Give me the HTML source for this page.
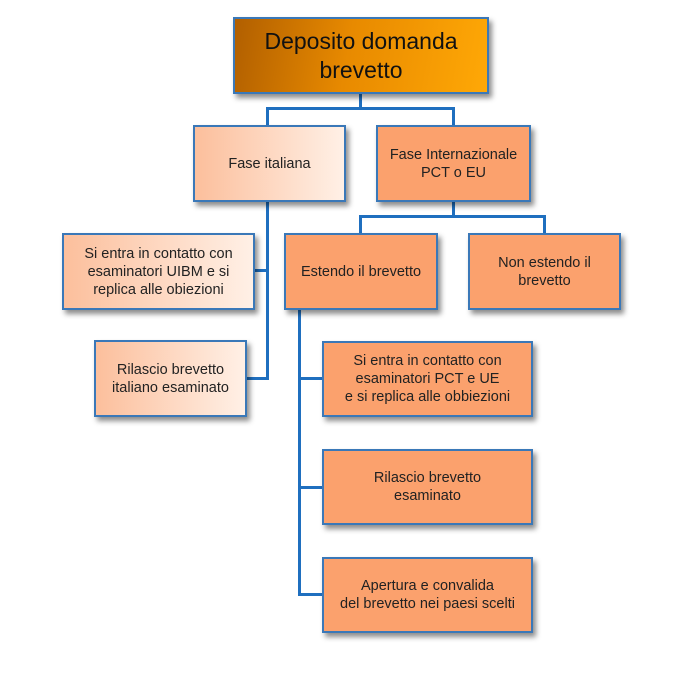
<!DOCTYPE html>
<html><head><meta charset="utf-8"><style>
body{margin:0;width:680px;height:686px;background:#fff;position:relative;overflow:hidden;font-family:"Liberation Sans",sans-serif;}
.b{position:absolute;box-sizing:border-box;border:2px solid #3a78b8;display:flex;align-items:center;justify-content:center;text-align:center;color:#222;font-size:14.5px;line-height:18px;box-shadow:3px 4px 5px rgba(0,0,0,0.45);background:#fba16d;}
.l{position:absolute;background:#1f6fbf;}
.lt{background:linear-gradient(90deg,#fcbf9c,#fff0e6);}
</style></head><body>
<div class="l" style="left:359px;top:93px;width:3px;height:17px"></div>
<div class="l" style="left:266px;top:107px;width:189px;height:3px"></div>
<div class="l" style="left:266px;top:107px;width:3px;height:20px"></div>
<div class="l" style="left:452px;top:107px;width:3px;height:20px"></div>
<div class="l" style="left:266px;top:200px;width:3px;height:180px"></div>
<div class="l" style="left:253px;top:269px;width:15px;height:3px"></div>
<div class="l" style="left:245px;top:377px;width:23px;height:3px"></div>
<div class="l" style="left:452px;top:200px;width:3px;height:18px"></div>
<div class="l" style="left:359px;top:215px;width:187px;height:3px"></div>
<div class="l" style="left:359px;top:215px;width:3px;height:20px"></div>
<div class="l" style="left:543px;top:215px;width:3px;height:20px"></div>
<div class="l" style="left:298px;top:308px;width:3px;height:288px"></div>
<div class="l" style="left:298px;top:377px;width:25px;height:3px"></div>
<div class="l" style="left:298px;top:486px;width:25px;height:3px"></div>
<div class="l" style="left:298px;top:593px;width:25px;height:3px"></div>

<div class="b" style="left:233px;top:17px;width:256px;height:77px;background:linear-gradient(100deg,#b15f00,#e88a00 45%,#ffa806);font-size:23px;line-height:29px;color:#111">Deposito domanda<br>brevetto</div>
<div class="b lt" style="left:193px;top:125px;width:153px;height:77px">Fase italiana</div>
<div class="b" style="left:376px;top:125px;width:155px;height:77px">Fase Internazionale<br>PCT o EU</div>
<div class="b lt" style="left:62px;top:233px;width:193px;height:77px">Si entra in contatto con<br>esaminatori UIBM e si<br>replica alle obiezioni</div>
<div class="b lt" style="left:94px;top:340px;width:153px;height:77px">Rilascio brevetto<br>italiano esaminato</div>
<div class="b" style="left:284px;top:233px;width:154px;height:77px">Estendo il brevetto</div>
<div class="b" style="left:468px;top:233px;width:153px;height:77px">Non estendo il<br>brevetto</div>
<div class="b" style="left:322px;top:341px;width:211px;height:76px">Si entra in contatto con<br>esaminatori PCT e UE<br>e si replica alle obbiezioni</div>
<div class="b" style="left:322px;top:449px;width:211px;height:76px">Rilascio brevetto<br>esaminato</div>
<div class="b" style="left:322px;top:557px;width:211px;height:76px">Apertura e convalida<br>del brevetto nei paesi scelti</div>
</body></html>
